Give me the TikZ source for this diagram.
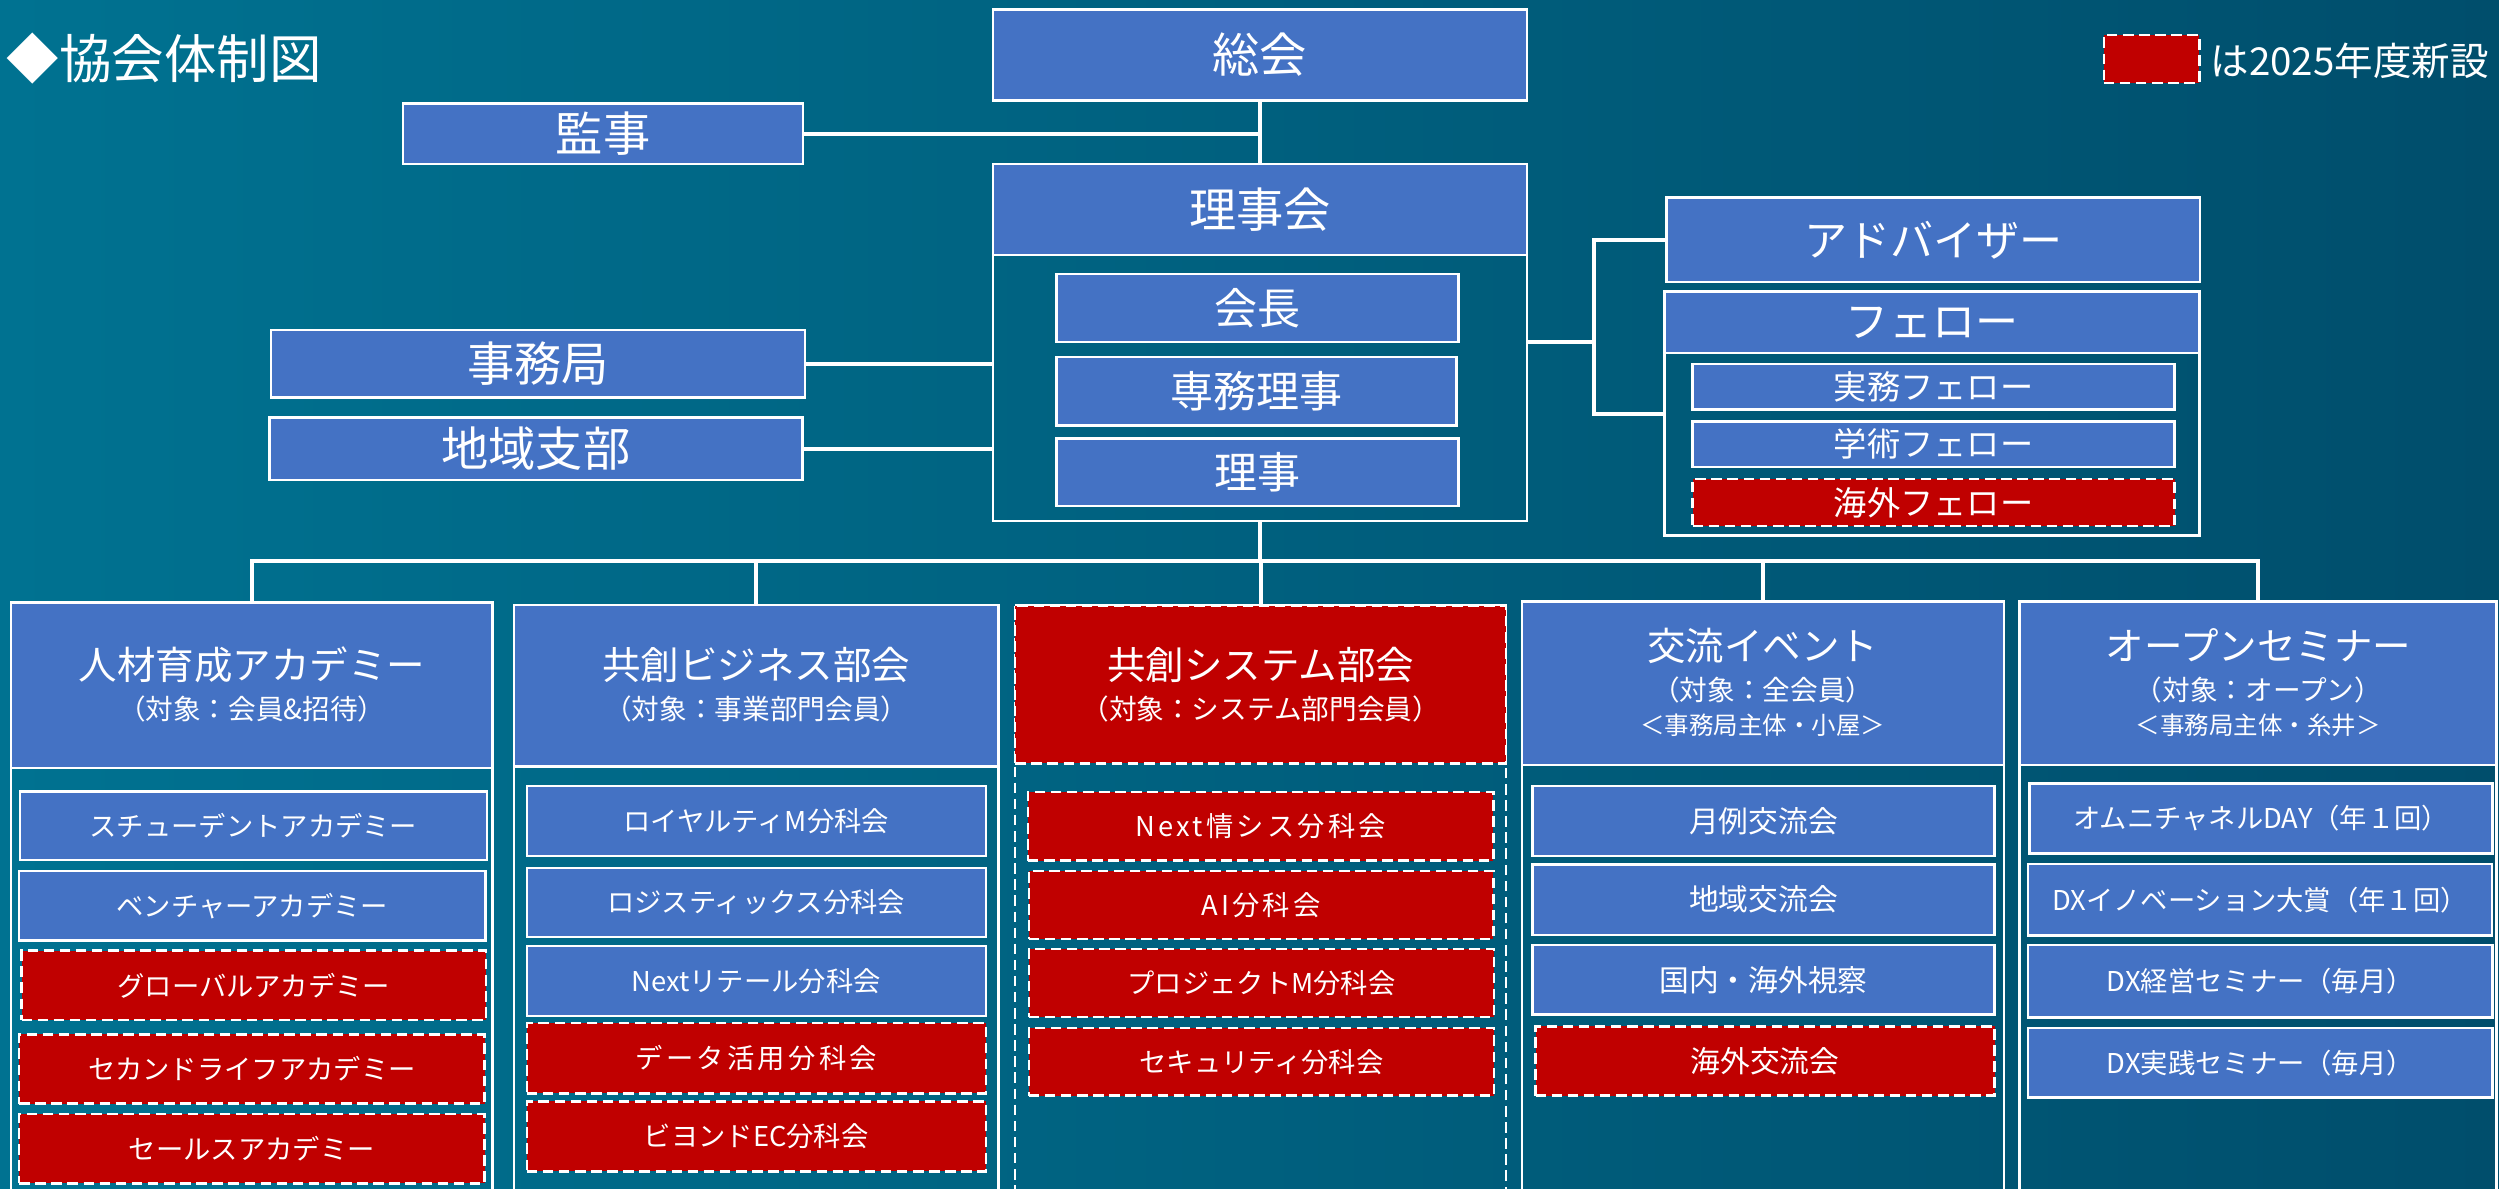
\documentclass[tikz,border=0pt]{standalone}
\usepackage{fontspec}
\setmainfont{Noto Sans CJK JP}
\definecolor{bgL}{RGB}{0,114,145}
\definecolor{bgR}{RGB}{0,78,108}
\definecolor{boxblue}{RGB}{68,114,196}
\definecolor{newred}{RGB}{192,0,0}
\tikzset{
  base/.style={inner sep=0pt, outer sep=0pt, text=white, draw=white, line width=0.7pt},
  bluebox/.style={base, fill=boxblue},
  newdash/.style={dash pattern=on 3pt off 1.6pt},
  redbox/.style={base, fill=newred, newdash},
  framebox/.style={base},
  frameline/.style={draw=white, line width=0.7pt},
  conn/.style={draw=white, line width=1.1pt},
  txt/.style={inner sep=0pt, outer sep=0pt, text=white},
  ftitle/.style={font=\fontsize{15pt}{18pt}\selectfont},
  fbig/.style={font=\fontsize{13.5pt}{16pt}\selectfont},
  fmid/.style={font=\fontsize{12.3pt}{15pt}\selectfont},
  fleg/.style={font=\fontsize{11pt}{13pt}\selectfont},
  ffel/.style={font=\fontsize{9.5pt}{11pt}\selectfont},
  fcol/.style={font=\fontsize{11pt}{13pt}\selectfont},
  fsub/.style={font=\fontsize{7.9pt}{9pt}\selectfont},
  fsubb/.style={font=\fontsize{7pt}{8pt}\selectfont},
  fitem/.style={font=\fontsize{7.8pt}{9pt}\selectfont},
  fitemw/.style={font=\fontsize{7.8pt}{9pt}\selectfont\addfontfeatures{LetterSpace=12}},
  fitemb/.style={font=\fontsize{8.5pt}{10pt}\selectfont},
}
\newcommand{\mkbox}[7]{\node[#1, minimum width={(#5-#3)*0.016cm}, minimum height={(#6-#4)*0.016cm}] (#2) at ({(#3+#5)/2},{(#4+#6)/2}) {#7};}
\begin{document}
\begin{tikzpicture}[x=0.016cm, y=-0.016cm]
\useasboundingbox (0,0) rectangle (1568,746);
\clip (0,0) rectangle (1568,746);
\shade[left color=bgL, right color=bgR] (0,0) rectangle (1568,746);

% title and legend
\node[txt, ftitle] (title) at (103,37) {◆協会体制図};
\mkbox{redbox}{legbox}{1320}{22}{1380}{52}{}
\node[txt, fleg, anchor=west] (legtext) at (1387,38) {は2025年度新設};

% top
\mkbox{bluebox, fbig}{sokai}{623}{6}{958}{63}{総会}
\mkbox{bluebox, fbig}{kanji}{253}{65}{504}{103}{監事}
\mkbox{framebox}{rijiframe}{623}{103}{958}{327}{}
\mkbox{bluebox, fbig}{rijikai}{623}{103}{958}{160}{理事会}
\mkbox{bluebox, fmid}{kaicho}{663}{172}{915}{214.5}{会長}
\mkbox{bluebox, fmid}{senmu}{663}{224}{914}{267}{専務理事}
\mkbox{bluebox, fmid}{riji}{663}{275}{915}{317.5}{理事}
\mkbox{bluebox, fbig}{jimukyoku}{170}{207}{505}{249.5}{事務局}
\mkbox{bluebox, fbig}{shibu}{169}{262}{503.5}{301}{地域支部}

% right
\mkbox{bluebox, fmid}{advisor}{1045.5}{124}{1380.5}{177}{アドバイザー}
\mkbox{framebox}{fellowframe}{1044.5}{183}{1380}{336}{}
\mkbox{bluebox, fmid}{fellow}{1044.5}{183}{1380}{221.5}{フェロー}
\mkbox{bluebox, ffel}{jitsumu}{1062}{228.5}{1364.5}{257}{実務フェロー}
\mkbox{bluebox, ffel}{gakujutsu}{1062}{264.5}{1364.5}{293}{学術フェロー}
\mkbox{redbox, ffel}{kaigaif}{1062}{300.5}{1364.5}{330}{海外フェロー}

% connectors top
\draw[conn] (sokai.south) -- (rijiframe.north);
\draw[conn] (kanji.east) -- (kanji.east -| sokai.south);
\draw[conn] (jimukyoku.east) -- (jimukyoku.east -| rijiframe.west);
\draw[conn] (shibu.east) -- (shibu.east -| rijiframe.west);
\coordinate (advj) at (1000,214.5);
\draw[conn] (advj -| rijiframe.east) -- (advj);
\draw[conn] (advisor.west) -| (advj) |- (fellowframe.west);

% column frames
\draw[frameline] (7,378) rectangle (309,760);
\draw[frameline] (322.5,379.5) rectangle (626.5,760);
\draw[frameline, newdash] (637,380) rectangle (945,760);
\draw[frameline] (955,377.5) rectangle (1257.5,760);
\draw[frameline] (1267,377.5) rectangle (1566.5,760);

% column headers
\mkbox{bluebox}{h1}{7}{378}{309}{482}{}
\mkbox{bluebox}{h2}{322.5}{379.5}{626.5}{481}{}
\mkbox{redbox}{h3}{637}{380}{945}{479}{}
\mkbox{bluebox}{h4}{955}{377.5}{1257.5}{480}{}
\mkbox{bluebox}{h5}{1267}{377.5}{1566.5}{480}{}

\node[txt, fcol] (h1t) at (158,417) {人材育成アカデミー};
\node[txt, fsub] (h1s) at (158,445) {（対象：会員\&招待）};
\node[txt, fcol] (h2t) at (474.5,417) {共創ビジネス部会};
\node[txt, fsub] (h2s) at (474.5,445) {（対象：事業部門会員）};
\node[txt, fcol] (h3t) at (791,417) {共創システム部会};
\node[txt, fsub] (h3s) at (791,445) {（対象：システム部門会員）};
\node[txt, fcol] (h4t) at (1106,405) {交流イベント};
\node[txt, fsub] (h4s) at (1106,433) {（対象：全会員）};
\node[txt, fsubb] (h4u) at (1106,455) {＜事務局主体・小屋＞};
\node[txt, fcol] (h5t) at (1417,405) {オープンセミナー};
\node[txt, fsub] (h5s) at (1417,433) {（対象：オープン）};
\node[txt, fsubb] (h5u) at (1417,455) {＜事務局主体・糸井＞};

% tree connector
\coordinate (tj) at (790.5,352);
\draw[conn] (rijiframe.south) -- (tj);
\draw[conn] (tj) -| (h1.north);
\draw[conn] (tj) -| (h2.north);
\draw[conn] (tj) -- (tj -| h3.north) -- (h3.north);
\draw[conn] (tj) -| (h4.north);
\draw[conn] (tj) -| (h5.north);

% column 1 items
\mkbox{bluebox, fitem}{c1a}{12.5}{496.5}{305.5}{539.5}{スチューデントアカデミー}
\mkbox{bluebox, fitem}{c1b}{12}{546.5}{304.5}{590}{ベンチャーアカデミー}
\mkbox{redbox, fitem}{c1c}{13.5}{596.5}{305}{640}{グローバルアカデミー}
\mkbox{redbox, fitem}{c1d}{12}{649}{304}{692.5}{セカンドライフアカデミー}
\mkbox{redbox, fitem}{c1e}{12}{699}{304}{742.5}{セールスアカデミー}

% column 2 items
\mkbox{bluebox, fitem}{c2a}{330.5}{493}{618.5}{537}{ロイヤルティM分科会}
\mkbox{bluebox, fitem}{c2b}{330.5}{544.5}{618.5}{588}{ロジスティックス分科会}
\mkbox{bluebox, fitem}{c2c}{330.5}{593.5}{618.5}{637.5}{Nextリテール分科会}
\mkbox{redbox, fitemw}{c2d}{330.5}{642}{618.5}{686}{データ活用分科会}
\mkbox{redbox, fitem}{c2e}{330.5}{691}{618.5}{735}{ビヨンドEC分科会}

% column 3 items
\mkbox{redbox, fitemw}{c3a}{645}{497}{937}{540}{Next情シス分科会}
\mkbox{redbox, fitemw}{c3b}{645.5}{546.5}{937}{589}{AI分科会}
\mkbox{redbox, fitem}{c3c}{645.5}{595.5}{937.5}{638}{プロジェクトM分科会}
\mkbox{redbox, fitem}{c3d}{645.5}{645}{937.5}{687.5}{セキュリティ分科会}

% column 4 items
\mkbox{bluebox, fitemb}{c4a}{961.5}{493}{1251.5}{537}{月例交流会}
\mkbox{bluebox, fitemb}{c4b}{961.5}{542.5}{1251.5}{586.5}{地域交流会}
\mkbox{bluebox, fitemb}{c4c}{961.5}{593}{1251.5}{636.5}{国内・海外視察}
\mkbox{redbox, fitemb}{c4d}{963.5}{644}{1251.5}{687.5}{海外交流会}

% column 5 items
\mkbox{bluebox, fitem}{c5a}{1273.5}{491.5}{1564}{535.5}{オムニチャネルDAY（年１回）}
\mkbox{bluebox, fitem}{c5b}{1272.5}{542}{1563.5}{587}{DXイノベーション大賞（年１回）}
\mkbox{bluebox, fitem}{c5c}{1272.5}{593}{1564}{638.5}{DX経営セミナー（毎月）}
\mkbox{bluebox, fitem}{c5d}{1272.5}{645}{1564}{688.5}{DX実践セミナー（毎月）}
\end{tikzpicture}
\end{document}
